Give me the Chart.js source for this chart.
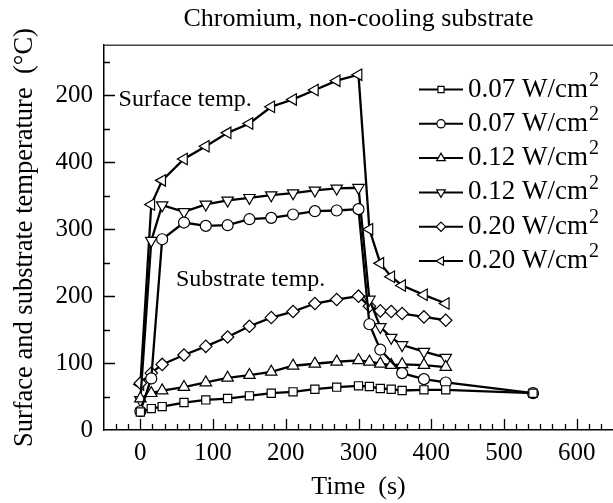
<!DOCTYPE html>
<html>
<head>
<meta charset="utf-8">
<script src="https://cdn.jsdelivr.net/npm/chart.js@4/dist/chart.umd.min.js"></script>
<style>
    body { margin: 0; background: #fff; }
    canvas { display: block; }
</style>
</head>
<body>
<canvas id="graphic-chromium" width="613" height="503"></canvas>
<script>
// Time (s) for each series
const timeSquare = [0, 15, 30, 60, 90, 120, 150, 180, 210, 240, 270, 300, 315, 330, 345, 360, 390, 420, 540];
const timeCircle = [0, 15, 30, 60, 90, 120, 150, 180, 210, 240, 270, 300, 315, 330, 360, 390, 420, 540];
const timeMain = [0, 15, 30, 60, 90, 120, 150, 180, 210, 240, 270, 300, 315, 330, 345, 360, 390, 420];

// Temperatures (°C)
const sub007 = [27, 32, 35, 41, 45, 47, 51, 55, 57, 61, 64, 66, 65, 62, 61, 59, 60, 60, 55];
const surf007 = [28, 77, 285, 310, 305, 306, 315, 317, 322, 327, 328, 330, 158, 120, 85, 76, 71, 55];
const sub012 = [47, 55, 59, 64, 71, 78, 82, 87, 96, 99, 102, 104, 102, 99, 97, 98, 97, 94];
const surf012 = [45, 283, 336, 326, 337, 343, 347, 351, 354, 358, 361, 362, 195, 154, 138, 127, 117, 108];
const sub020 = [70, 85, 98, 112, 125, 139, 155, 168, 177, 189, 195, 200, 185, 178, 177, 174, 169, 164];
const surf020 = [68, 337, 373, 405, 424, 444, 458, 483, 494, 508, 522, 531, 300, 249, 229, 216, 202, 189];

const seriesLabels = ['0.07 W/cm²', '0.07 W/cm²', '0.12 W/cm²', '0.12 W/cm²', '0.20 W/cm²', '0.20 W/cm²'];

const xTickValues = [0, 100, 200, 300, 400, 500, 600];
const xTickLabels = ['0', '100', '200', '300', '400', '500', '600'];
const yTickValues = [0, 100, 200, 300, 400, 500];
const yTickLabels = ['0', '100', '200', '300', '400', '200'];

const serif = 'Liberation Serif';

function serie(label, times, values, style, radius, rotation) {
    return {
        label: label,
        data: times.map((t, i) => ({ x: t, y: values[i] })),
        borderColor: '#000',
        backgroundColor: '#fff',
        borderWidth: 2.3,
        pointStyle: style,
        pointRadius: radius,
        pointRotation: rotation,
        pointBackgroundColor: '#fff',
        pointBorderColor: '#000',
        pointBorderWidth: 1.2,
        tension: 0,
        fill: false
    };
}

// inside tick marks, top frame line, text notes and the legend
const decor = {
    id: 'decor',
    afterDraw(chart) {
        const { ctx, chartArea: a, scales: { x, y } } = chart;
        ctx.save();
        ctx.strokeStyle = '#000';
        ctx.lineWidth = 1.3;
        ctx.beginPath();
        for (let k = -2; k <= 39; k++) {
            const v = k * 100 / 6;
            if (v <= x.min || v >= x.max) continue;
            const px = Math.round(x.getPixelForValue(v)) + 0.5;
            const len = k % 6 === 0 ? 11 : 6;
            ctx.moveTo(px, a.bottom);
            ctx.lineTo(px, a.bottom - len);
        }
        for (let v = 50; v < y.max; v += 50) {
            const py = Math.round(y.getPixelForValue(v)) + 0.5;
            const len = v % 100 === 0 ? 11 : 6;
            ctx.moveTo(a.left, py);
            ctx.lineTo(a.left + len, py);
        }
        ctx.stroke();

        ctx.strokeStyle = '#444';
        ctx.lineWidth = 1.6;
        ctx.beginPath();
        ctx.moveTo(a.left, a.top);
        ctx.lineTo(a.right, a.top);
        ctx.stroke();

        ctx.fillStyle = '#000';
        ctx.font = '24px "' + serif + '"';
        ctx.textAlign = 'left';
        ctx.textBaseline = 'middle';
        ctx.fillText('Surface temp.', x.getPixelForValue(-30), y.getPixelForValue(493));
        ctx.fillText('Substrate temp.', x.getPixelForValue(49), y.getPixelForValue(224));

        // legend: short line with marker, then label with superscript
        chart.data.datasets.forEach((ds, i) => {
            const ly = 89.5 + i * 34.3;
            ctx.strokeStyle = '#000';
            ctx.lineWidth = 2;
            ctx.beginPath();
            ctx.moveTo(419, ly);
            ctx.lineTo(463, ly);
            ctx.stroke();
            ctx.fillStyle = '#fff';
            ctx.lineWidth = 1.2;
            Chart.helpers.drawPoint(ctx, {
                pointStyle: ds.pointStyle,
                rotation: ds.pointRotation,
                radius: ds.pointRadius * 0.75,
                borderWidth: 1.2
            }, 441, ly);
            ctx.fillStyle = '#000';
            const base = ds.label.replace('²', '');
            ctx.font = '27px "' + serif + '"';
            ctx.fillText(base, 468, ly);
            const w = ctx.measureText(base).width;
            ctx.font = '20px "' + serif + '"';
            ctx.fillText('2', 468 + w + 1, ly - 9);
        });
        ctx.restore();
    }
};

var chartChromium = new Chart(document.getElementById('graphic-chromium'), {
    type: 'line',
    data: {
        datasets: [
            serie(seriesLabels[0], timeSquare, sub007, 'rect', 5.8, 0),
            serie(seriesLabels[1], timeCircle, surf007, 'circle', 5.5, 0),
            serie(seriesLabels[2], timeMain, sub012, 'triangle', 6.6, 0),
            serie(seriesLabels[3], timeMain, surf012, 'triangle', 6.6, 180),
            serie(seriesLabels[4], timeMain, sub020, 'rectRot', 6.2, 0),
            serie(seriesLabels[5], timeMain, surf020, 'triangle', 6.6, -90)
        ]
    },
    options: {
        responsive: false,
        maintainAspectRatio: false,
        animation: false,
        devicePixelRatio: 1,
        layout: { padding: 0, autoPadding: false },
        scales: {
            x: {
                type: 'linear',
                min: -50,
                max: 650,
                afterBuildTicks: (s) => { s.ticks = xTickValues.map(v => ({ value: v })); },
                afterFit: (s) => { s.height = 73; s.paddingLeft = 0; s.paddingRight = 0; },
                ticks: {
                    autoSkip: false,
                    maxRotation: 0,
                    padding: 8,
                    color: '#000',
                    font: { family: serif, size: 25 },
                    callback: (v, i) => xTickLabels[i]
                },
                grid: { drawOnChartArea: false, drawTicks: false },
                border: { color: '#000', width: 1.5 },
                title: {
                    display: true,
                    text: 'Time  (s)',
                    color: '#000',
                    font: { family: serif, size: 26 },
                    padding: { top: 0, bottom: 0 }
                }
            },
            y: {
                min: 0,
                max: 575,
                afterBuildTicks: (s) => { s.ticks = yTickValues.map(v => ({ value: v })); },
                afterFit: (s) => { s.width = 104; s.paddingTop = 0; s.paddingBottom = 0; },
                ticks: {
                    padding: 11,
                    color: '#000',
                    font: { family: serif, size: 25 },
                    callback: (v, i) => yTickLabels[i]
                },
                grid: { drawOnChartArea: false, drawTicks: false },
                border: { color: '#000', width: 1.5 },
                title: {
                    display: true,
                    text: 'Surface and substrate temperature  (°C)',
                    color: '#000',
                    font: { family: serif, size: 26.5 },
                    padding: { top: 9, bottom: 0 }
                }
            }
        },
        plugins: {
            legend: { display: false },
            tooltip: { enabled: false },
            title: {
                display: true,
                text: 'Chromium, non-cooling substrate',
                fullSize: false,
                color: '#000',
                font: { family: serif, size: 26, weight: 'normal' },
                padding: { top: 4, bottom: 10 }
            }
        }
    },
    plugins: [decor]
});
</script>
</body>
</html>
